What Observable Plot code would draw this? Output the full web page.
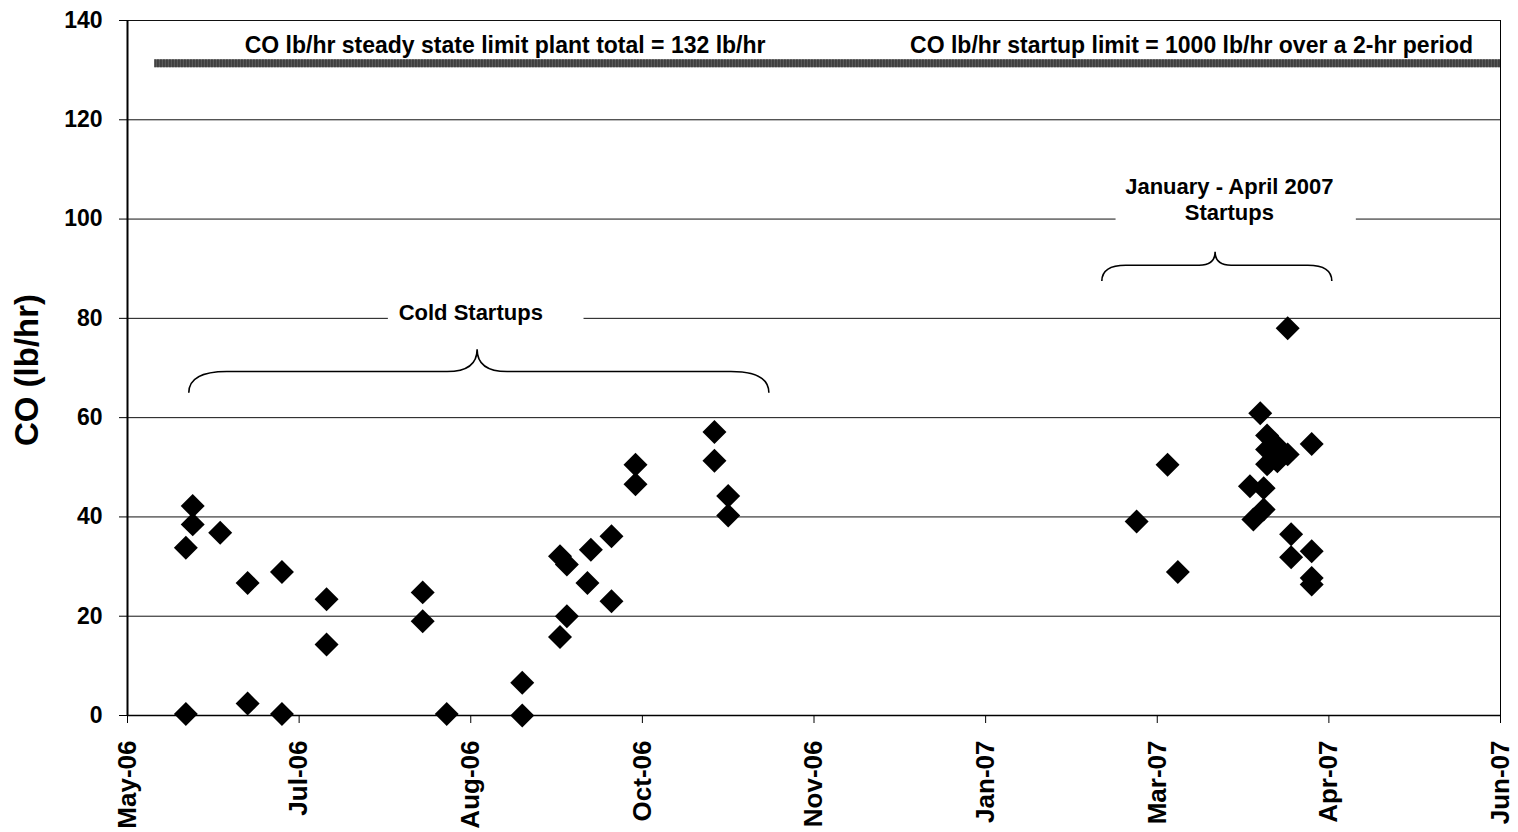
<!DOCTYPE html>
<html>
<head>
<meta charset="utf-8">
<script src="https://cdn.jsdelivr.net/npm/d3@7"></script>
<script src="https://cdn.jsdelivr.net/npm/@observablehq/plot@0.6"></script>
<style>
html, body { margin: 0; padding: 0; background: #fff; overflow: hidden; }
#chart svg { display: block; }
</style>
</head>
<body>
<div id="chart"></div>
<script>
// ---- data ----
const pointDates = [
  "2006-05-30","2006-05-30","2006-06-01","2006-06-01","2006-06-09","2006-06-17","2006-06-17",
  "2006-06-27","2006-06-27","2006-07-10","2006-07-10","2006-08-07","2006-08-07","2006-08-14",
  "2006-09-05","2006-09-05","2006-09-16","2006-09-16","2006-09-18","2006-09-18","2006-09-24",
  "2006-09-25","2006-10-01","2006-10-01","2006-10-08","2006-10-08","2006-10-31","2006-10-31",
  "2006-11-04","2006-11-04",
  "2007-03-03","2007-03-12","2007-03-15","2007-04-05","2007-04-06","2007-04-08","2007-04-09",
  "2007-04-09","2007-04-10","2007-04-10","2007-04-10","2007-04-13","2007-04-13","2007-04-16",
  "2007-04-16","2007-04-17","2007-04-17","2007-04-23","2007-04-23","2007-04-23","2007-04-23"
];
const pointValues = [
  33.8, 0.3, 42.2, 38.5, 36.8, 26.7, 2.4,
  28.9, 0.3, 23.4, 14.3, 24.8, 19.0, 0.3,
  6.6, 0.0, 32.1, 15.8, 30.4, 20.0, 26.7,
  33.4, 36.1, 23.0, 50.5, 46.6, 57.1, 51.3,
  44.2, 40.3,
  39.1, 50.5, 28.9, 46.2, 39.5, 60.9, 45.8,
  41.5, 56.4, 53.6, 50.6, 51.2, 54.2, 52.6,
  78.0, 36.5, 31.9, 54.7, 33.1, 27.7, 26.4
];
const yTicks = [0, 20, 40, 60, 80, 100, 120, 140];
const xTickDates = ["2006-05-13","2006-07-02","2006-08-21","2006-10-10","2006-11-29","2007-01-18","2007-03-09","2007-04-28","2007-06-17"];
const xTickLabels = ["May-06","Jul-06","Aug-06","Oct-06","Nov-06","Jan-07","Mar-07","Apr-07","Jun-07"];
const yLabel = "CO (lb/hr)";

const limitValue = 131.4;
const limitStart = "2006-05-21";
const limitTexts = ["CO lb/hr steady state limit plant total = 132 lb/hr", "CO lb/hr startup limit = 1000 lb/hr over a 2-hr period"];
const limitTextDates = ["2006-08-31", "2007-03-19"];
const limitTextValue = 134.9;

const groupTexts = ["Cold Startups", "January - April 2007", "Startups"];
const groupTextDates = ["2006-08-21", "2007-03-30", "2007-03-30"];
const groupTextValues = [81.0, 106.4, 101.2];
const groupBoxStart = ["2006-07-28", "2007-02-25"];
const groupBoxEnd = ["2006-09-23", "2007-05-06"];
const groupBoxLow = [77, 96];
const groupBoxHigh = [85, 110];

const braceStart = ["2006-05-31", "2007-02-21"];
const braceEnd = ["2006-11-16", "2007-04-29"];
const braceMid = ["2006-08-23", "2007-03-26"];
const braceEndValue = [64.9, 87.4];
const braceLineValue = [69.2, 90.6];
const bracePeakValue = [73.7, 93.3];

// ---- build tables ----
const D = s => new Date(s);
const points = pointDates.map((d, i) => ({date: D(d), value: pointValues[i]}));
const xTicks = xTickDates.map(D);
const xDomain = [xTicks[0], xTicks[xTicks.length - 1]];
const limitRows = [{x1: D(limitStart), x2: xDomain[1], y: limitValue}];
const limitTextRows = limitTexts.map((t, i) => ({text: t, x: D(limitTextDates[i]), y: limitTextValue}));
const groupTextRows = groupTexts.map((t, i) => ({text: t, x: D(groupTextDates[i]), y: groupTextValues[i]}));
const boxRows = groupBoxStart.map((s, i) => ({x1: D(s), x2: D(groupBoxEnd[i]), y1: groupBoxLow[i], y2: groupBoxHigh[i]}));
const braceRows = braceStart.map((s, i) => ({
  x1: D(s), x2: D(braceEnd[i]), xm: D(braceMid[i]),
  ye: braceEndValue[i], yh: braceLineValue[i], yp: bracePeakValue[i],
  rEnd: i === 0 ? 38 : 24, rPeak: i === 0 ? 30 : 16
}));

const FONT = "Liberation Sans, Arial, Helvetica, sans-serif";

function braces(index, scales) {
  const X = scales.x, Y = scales.y;
  const g = d3.create("svg:g");
  for (const b of braceRows) {
    const x1 = X(b.x1), x2 = X(b.x2), xm = X(b.xm);
    const ye = Y(b.ye), yh = Y(b.yh), yp = Y(b.yp);
    const p = d3.path();
    p.moveTo(x1, ye);
    p.quadraticCurveTo(x1, yh, x1 + b.rEnd, yh);
    p.lineTo(xm - b.rPeak, yh);
    p.quadraticCurveTo(xm, yh, xm, yp);
    p.quadraticCurveTo(xm, yh, xm + b.rPeak, yh);
    p.lineTo(x2 - b.rEnd, yh);
    p.quadraticCurveTo(x2, yh, x2, ye);
    g.append("path").attr("d", p.toString()).attr("fill", "none")
      .attr("stroke", "#000").attr("stroke-width", 1.6);
  }
  return g.node();
}

const chart = Plot.plot({
  width: 1518,
  height: 832,
  marginTop: 20,
  marginBottom: 117,
  marginLeft: 127,
  marginRight: 18,
  style: {fontFamily: FONT, background: "#fff", color: "#000"},
  x: {type: "utc", domain: xDomain},
  y: {domain: [0, 140]},
  marks: [
    Plot.ruleY(yTicks, {stroke: "#111", strokeWidth: 1}),
    Plot.rect(boxRows, {x1: "x1", x2: "x2", y1: "y1", y2: "y2", fill: "#fff"}),
    Plot.ruleY(limitRows, {x1: "x1", x2: "x2", y: "y", stroke: "#5a5a5a", strokeWidth: 8}),
    Plot.ruleY(limitRows, {x1: "x1", x2: "x2", y: "y", stroke: "#2a2a2a", strokeWidth: 8, strokeDasharray: "1 2"}),
    Plot.ruleX([xDomain[0]], {stroke: "#000", strokeWidth: 2}),
    Plot.ruleX([xDomain[1]], {stroke: "#000", strokeWidth: 1}),
    Plot.ruleY([0], {stroke: "#000", strokeWidth: 1.5}),
    Plot.axisY({ticks: yTicks, tickSize: 8, tickPadding: 17, fontSize: 23, fontWeight: "bold", label: null, fontFamily: FONT}),
    Plot.axisX({
      ticks: xTicks,
      tickFormat: d => xTickLabels[xTicks.findIndex(t => +t === +d)],
      tickRotate: -90, tickSize: 8, tickPadding: 17, fontSize: 26, fontWeight: "bold", label: null, fontFamily: FONT
    }),
    Plot.text([yLabel], {frameAnchor: "left", textAnchor: "middle", rotate: -90, dx: -100, dy: 2, text: d => d, fontSize: 33, fontWeight: "bold", fontFamily: FONT}),
    Plot.text(limitTextRows, {x: "x", y: "y", text: "text", fontSize: 23, fontWeight: "bold", fontFamily: FONT}),
    Plot.text(groupTextRows, {x: "x", y: "y", text: "text", fontSize: 22, fontWeight: "bold", fontFamily: FONT}),
    braces,
    Plot.dot(points, {x: "date", y: "value", symbol: "diamond2", r: 10.8, fill: "#000", stroke: "none"})
  ]
});
document.getElementById("chart").appendChild(chart);
</script>
</body>
</html>
